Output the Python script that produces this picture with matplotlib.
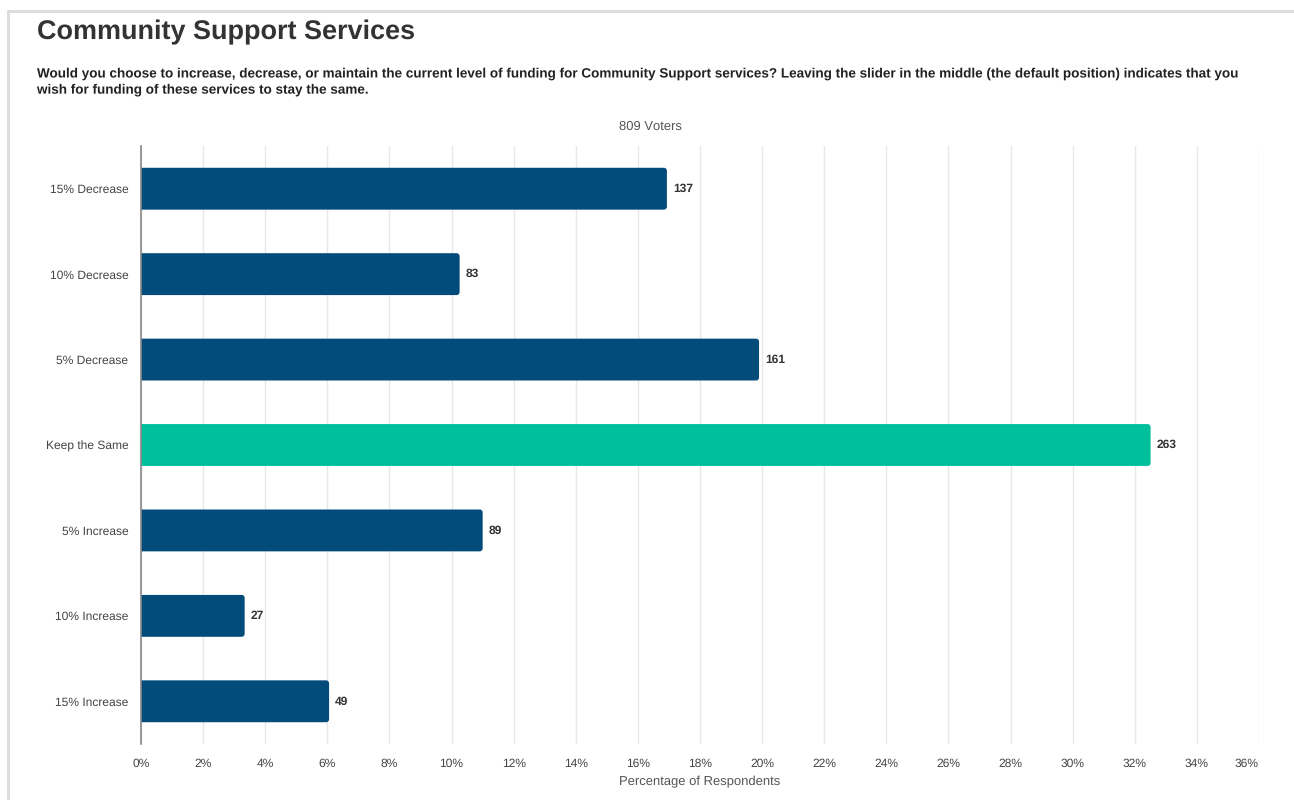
import numpy as np
import matplotlib.pyplot as plt
import matplotlib.patheffects as pe
from matplotlib.lines import Line2D
from matplotlib.patches import FancyBboxPatch

plt.rcParams['font.family'] = ['Liberation Sans', 'DejaVu Sans']
plt.rcParams['text.hinting'] = 'no_hinting'
plt.rcParams['text.hinting_factor'] = 1

categories = ["15% Decrease", "10% Decrease", "5% Decrease", "Keep the Same",
              "5% Increase", "10% Increase", "15% Increase"]
counts = [137, 83, 161, 263, 89, 27, 49]
total_voters = 809
highlight = "Keep the Same"

navy = "#024b7b"
teal = "#00bf9b"

pct = [c / total_voters * 100 for c in counts]
colors = [teal if c == highlight else navy for c in categories]

W, H = 1294, 800
x0, x1, y0, y1 = 141, 1259, 146, 744
fig = plt.figure(figsize=(W / 100, H / 100), dpi=100)
ax = fig.add_axes([x0 / W, 1 - y1 / H, (x1 - x0) / W, (y1 - y0) / H])

ax.set_xlim(0, 36)
ax.set_ylim(len(categories) - 0.5, -0.5)

# bars with rounded right ends; the left rounding starts behind x=0 and is clipped
bar_h = 0.49
px_x = (x1 - x0) / 36
px_y = (y1 - y0) / len(categories)
r = 3 / px_x
y = np.arange(len(categories))
for yi, p, col in zip(y, pct, colors):
    ax.add_patch(FancyBboxPatch((-r, yi - bar_h / 2), p + r, bar_h,
                                boxstyle="round,pad=0,rounding_size=%f" % r,
                                mutation_aspect=px_x / px_y,
                                fc=col, ec="none", zorder=3))
for yi, p, c in zip(y, pct, counts):
    ax.text(p + 0.2, yi, str(c), va="center", ha="left", fontsize=8.6,
            fontweight="bold", color="#333333")

ax.set_yticks(y)
ax.set_yticklabels(categories, fontsize=8.8, color="#444444")
ax.set_xticks(np.arange(0, 37, 2))
ax.set_xticklabels([f"{t}%" for t in range(0, 37, 2)], fontsize=8.8, color="#444444")
ax.get_xticklabels()[-1].set_horizontalalignment("right")
ax.tick_params(axis="both", length=0)
ax.tick_params(axis="y", pad=9)
ax.tick_params(axis="x", pad=10)
ax.grid(axis="x", color="#e8e8e8", linewidth=1, zorder=0)
for s in ["top", "right", "bottom"]:
    ax.spines[s].set_visible(False)
ax.spines["left"].set_color("#888888")
ax.spines["left"].set_linewidth(1.2)
ax.spines["left"].set_zorder(4)
ax.set_xlabel("Percentage of Respondents", fontsize=9.5, color="#555555", labelpad=5)

# card frame
fig.add_artist(Line2D([8 / W, 1293 / W], [1 - 10.5 / H] * 2, color="#dddddd", lw=2.2))
fig.add_artist(Line2D([8 / W] * 2, [0, 1 - 10.5 / H], color="#dddddd", lw=2.2))

fig.text(37 / W, 1 - 32 / H, "Community Support Services", fontsize=19.3,
         fontweight="bold", color="#333333", va="center", ha="left")
# drawn as a path so the size is not snapped to whole pixels
fig.text(37 / W, 1 - 82 / H,
         "Would you choose to increase, decrease, or maintain the current level of funding for "
         "Community Support services? Leaving the slider in the middle (the default position) "
         "indicates that you\nwish for funding of these services to stay the same.",
         fontsize=9.72, fontweight="bold", color="#222222", va="center", ha="left",
         linespacing=1.3, path_effects=[pe.Normal()])
fig.text(650 / W, 1 - 127 / H, f"{total_voters} Voters", fontsize=9.4,
         color="#555555", va="center", ha="center")

fig.savefig("out.png", dpi=100, facecolor="white")
